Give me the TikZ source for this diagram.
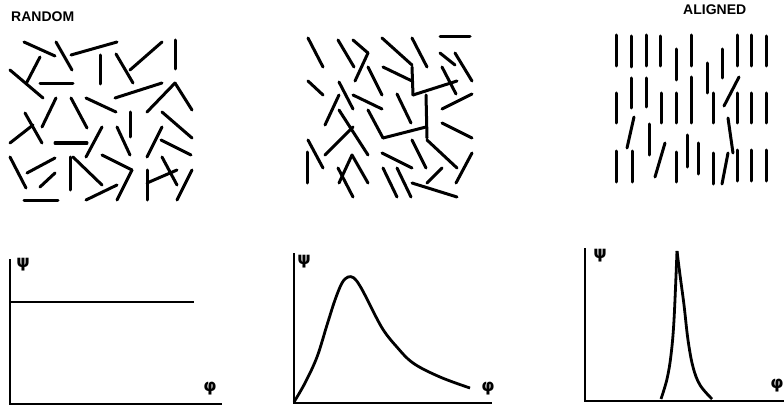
\documentclass[tikz,border=0pt]{standalone}
\usepackage{fontspec}
\setsansfont{Liberation Sans}
\newfontfamily\greekfont{DejaVu Sans}
\begin{document}
\begin{tikzpicture}[x=1pt,y=-1pt,
  stick/.style={line width=3pt,line cap=round},
  axis/.style={line width=1.7pt},
  curve/.style={line width=2.8pt,line join=round},
  title/.style={font=\sffamily\bfseries\fontsize{14}{16}\selectfont,inner sep=0pt},
  lbl/.style={font=\greekfont\bfseries\fontsize{17}{19}\selectfont,inner sep=0pt}]
\useasboundingbox (0,0) rectangle (784,409);
% titles
\node[title,anchor=west] (trandom) at (11,17) {RANDOM};
\node[title,anchor=west] (taligned) at (683,10) {ALIGNED};
% panel 1 random
\foreach \a/\b/\c/\d in {24/42/55/56, 56/42/72/70, 71/55/117/42, 10/70/43/98, 40/57/27/82,
 40/84/73/84, 100/55/100/84, 116/54/133/83, 130/70/162/42, 175/40/175/69, 115/98/162/83,
 147/112/175/83, 175/83/192/110, 56/98/42/127, 71/98/87/128, 86/98/116/112, 25/113/42/143,
 10/143/33/125, 55/143/87/143, 86/157/102/127, 130/112/130/137, 117/127/130/155,
 162/112/192/138, 147/157/162/127, 161/140/191/155, 10/157/26/188, 27/173/55/158,
 40/187/55/173, 70/157/70/190, 73/157/102/185, 102/155/132/170, 132/170/117/200,
 86/200/117/185, 24/200/58/200, 147/170/147/200, 147/183/177/170, 162/157/177/185,
 192/170/177/200}
 \draw[stick] (\a,\b) -- (\c,\d);
% panel 2 intermediate
\foreach \a/\b/\c/\d in {308/38/323/67, 338/40/354/67, 353/40/368/53, 368/53/355/81,
 382/38/412/65, 412/38/427/67, 440/37/470/37, 440/53/455/65, 455/53/472/81,
 308/81/323/95, 339/82/353/109, 368/67/382/95, 383/67/412/81, 412/67/413/95,
 413/95/457/81, 442/67/456/94, 472/94/442/109, 339/95/325/125, 353/95/382/109,
 397/94/411/123, 426/95/427/138, 368/110/383/138, 383/138/426/127, 339/110/368/155,
 325/155/353/127, 442/123/472/138, 308/140/323/168, 307/152/307/183, 427/140/457/168,
 412/140/426/168, 382/153/412/168, 352/155/368/183, 352/155/339/183, 338/168/353/197,
 383/168/397/197, 397/168/411/197, 427/183/442/168, 412/183/457/197, 472/153/456/183}
 \draw[stick] (\a,\b) -- (\c,\d);
% panel 3 aligned
\foreach \a/\b/\c/\d in {616/35/616/66, 631/36/631/67, 646/35/646/66, 660/36/660/66,
 676/49/676/80, 691/35/691/66, 707/63/707/93, 722/49/722/78, 737/35/737/66,
 751/35/751/66, 766/36/766/66,
 616/93/616/123, 631/78/631/108, 646/78/646/107, 661/93/661/123, 676/93/676/123,
 691/77/691/123, 713/93/713/123, 724/106/739/77, 737/93/737/123, 751/93/751/123,
 766/93/766/123,
 627/148/634/117, 649/124/649/155, 655/177/665/143, 616/151/616/182, 632/151/632/182,
 676/152/676/182, 687/135/687/167, 698/143/698/174, 713/153/713/184, 722/184/728/153,
 728/118/733/153, 737/150/737/181, 751/150/751/181, 766/150/766/181}
 \draw[stick] (\a,\b) -- (\c,\d);
% graph 1
\draw[axis] (10,259) -- (10,404) -- (222,404);
\draw[curve] (10,302) -- (194,302);
\node[lbl] (p1) at (23,265) {ψ};
\node[lbl] (f1) at (210,389) {φ};
% graph 2
\draw[axis] (294,253) -- (294,403) -- (492,403);
\draw[curve] plot[smooth,tension=0.6] coordinates {(294,402) (305,383) (317,357) (327,325)
 (335,300) (342,283) (348,277) (354,278) (360,286) (367,299) (375,315) (384,331)
 (396,346) (413,363) (440,377) (470,388)};
\node[lbl] (p2) at (304,262) {ψ};
\node[lbl] (f2) at (488,389) {φ};
% graph 3
\draw[axis] (585,248) -- (585,401) -- (784,401);
\draw[curve] plot[smooth,tension=0.6] coordinates {(661,399) (667,379) (671,355) (674,320) (677,251)};
\draw[curve] plot[smooth,tension=0.6] coordinates {(677,251) (680,275) (684,305) (688,340) (693,367) (700,385) (712,399)};
\node[lbl] (p3) at (600,256) {ψ};
\node[lbl] (f3) at (777,386) {φ};
\end{tikzpicture}
\end{document}
